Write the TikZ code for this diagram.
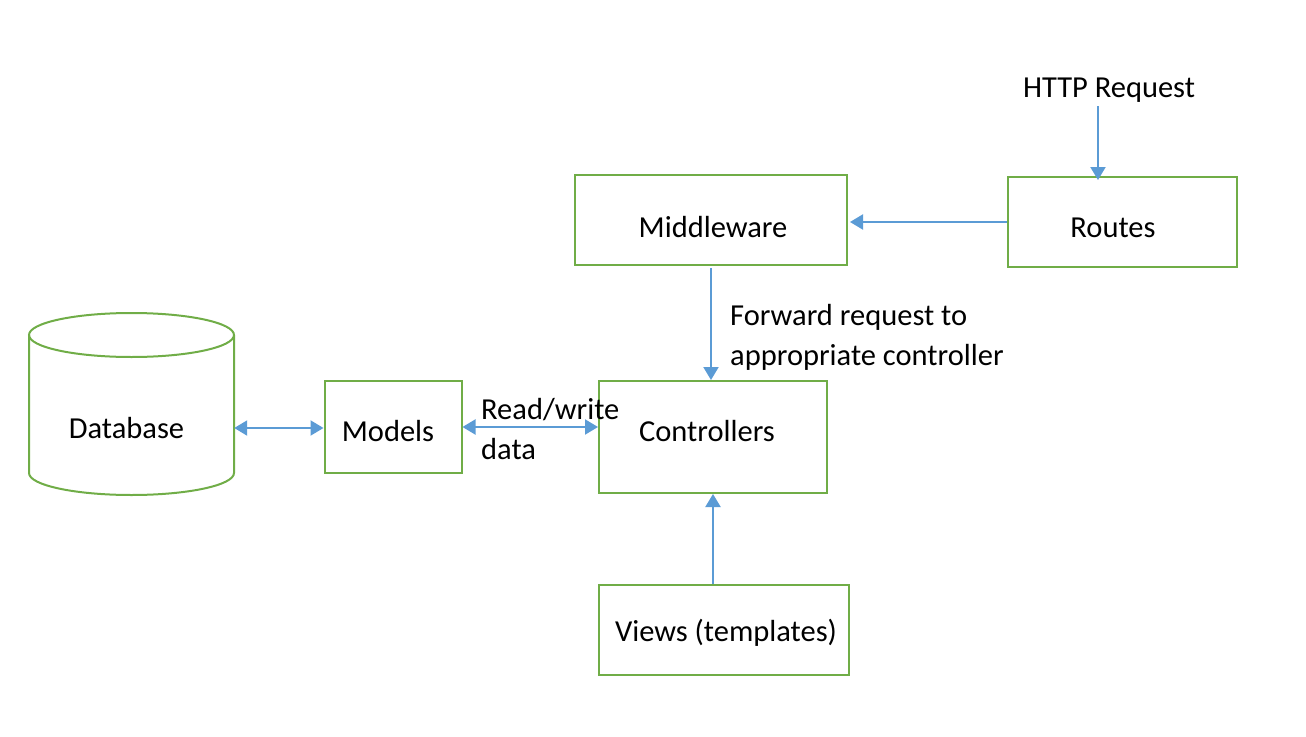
\documentclass[tikz,border=0pt]{standalone}
\usepackage{fontspec}
\setmainfont{Carlito}
\usetikzlibrary{arrows.meta}
\definecolor{boxgreen}{RGB}{112,173,71}
\definecolor{arrowblue}{RGB}{91,155,213}
\tikzset{
    green-box/.style = {draw=boxgreen, line width=2pt, fill=white, rectangle, inner sep=0pt},
    green-line/.style = {draw=boxgreen, line width=2pt},
    blue-arrow/.style = {draw=arrowblue, line width=2pt, -{Triangle[length=13pt,width=15pt]}},
    blue-both/.style = {draw=arrowblue, line width=2pt, {Triangle[length=13pt,width=15pt]}-{Triangle[length=13pt,width=15pt]}},
    plain-text/.style = {inner sep=0pt, align=left},
}
\newcommand{\nudge}[3]{\hspace*{#1}\raisebox{#2}[\height][\depth]{#3}}

\begin{document}
\begin{tikzpicture}[x=1pt, y=-1pt, font=\fontsize{30.5}{40}\selectfont]
\useasboundingbox (0,0) rectangle (1306,736);
% boxes
\node [green-box, minimum width=272pt, minimum height=90pt] (middleware) at (711,220) {\nudge{4pt}{-7pt}{Middleware}};
\node [green-box, minimum width=229pt, minimum height=90pt] (routes) at (1122,222) {\nudge{-18pt}{-6pt}{Routes}};
\node [green-box, minimum width=228pt, minimum height=112pt] (controllers) at (713,437) {\nudge{-12pt}{6pt}{Controllers}};
\node [green-box, minimum width=250pt, minimum height=90pt] (views) at (724,630) {\nudge{4pt}{-3pt}{Views (templates)}};
\node [green-box, minimum width=137pt, minimum height=92pt] (models) at (393,427) {\nudge{-10pt}{-4pt}{Models}};
% database cylinder
\draw [green-line] (29,335) -- (29,473) arc (180:0:102.5 and 22) -- (234,335);
\draw [green-line] (131.5,335) ellipse (102.5 and 22);
\node [inner sep=0pt, minimum width=205pt] (database) at (131.5,428) {\hspace*{-10pt}Database};
\node [plain-text] (http) at (1109,90) {HTTP Request};
% labels
\node [plain-text, anchor=west] (fwd) at (730,337) {Forward request to\\appropriate controller};
\node [plain-text, anchor=west] (rw) at (481,429) {Read/write\\data};
% arrows
\draw [blue-arrow] ([xshift=-11pt, yshift=-4pt]http.south) -- ([xshift=-11pt, yshift=-4pt]http.south |- routes.north);
\draw [blue-arrow] (routes.west) -- ([xshift=2pt]routes.west -| middleware.east);
\draw [blue-arrow] ([yshift=-2pt]middleware.south) -- (middleware.south |- controllers.north);
\draw [blue-arrow] (views.north -| controllers.south) -- (controllers.south);
\draw [blue-both] (models.east) -- (controllers.west |- models.east);
\draw [blue-both] (database.east) -- (database.east -| models.west);
\end{tikzpicture}
\end{document}
